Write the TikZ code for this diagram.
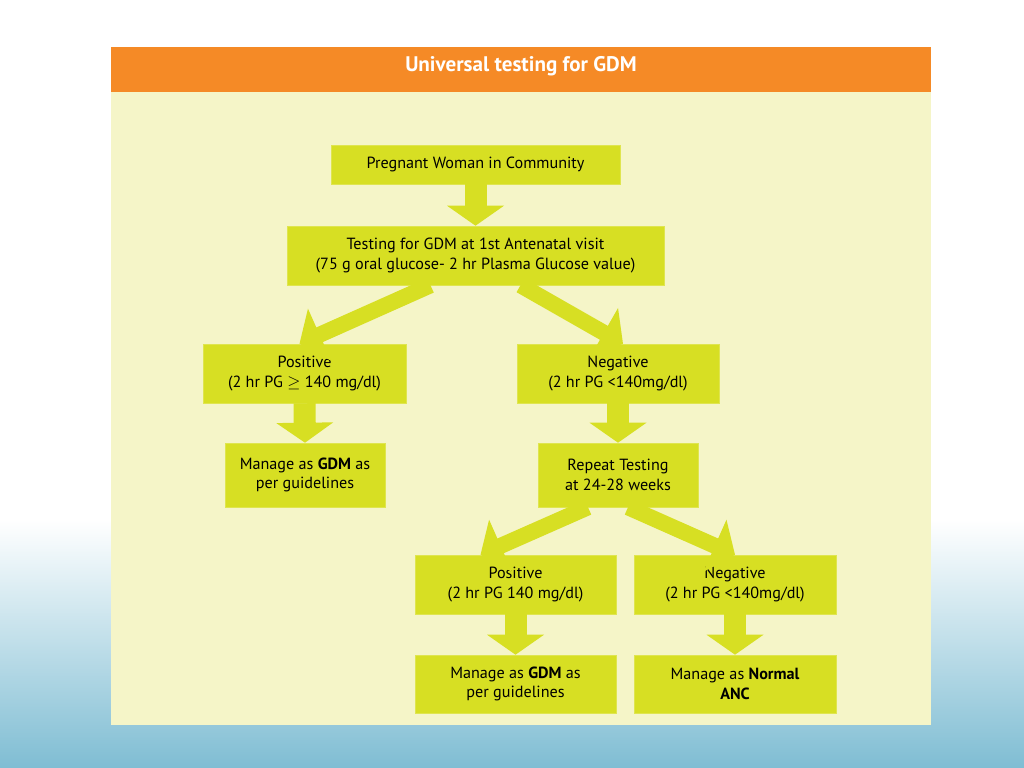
\documentclass[tikz,border=0pt]{standalone}
\usepackage{fontspec}
\setmainfont{PT Sans}
\usetikzlibrary{arrows.meta,calc}
\definecolor{hdrorange}{HTML}{F58A26}
\definecolor{panelyel}{HTML}{F5F5C8}
\definecolor{boxgreen}{HTML}{D7DF23}
\definecolor{skyblue}{HTML}{7FBDD3}
\tikzset{
  box/.style={fill=boxgreen, draw=boxgreen!80!white, align=center, inner sep=0pt,
    font=\fontsize{11.5}{14}\selectfont},
  blk/.style={boxgreen, line width=0.55cm,
    -{Triangle[width=1.4cm,length=0.5cm]}},
  blkthin/.style={boxgreen, line width=0.4cm,
    -{Triangle[width=1.4cm,length=0.55cm]}},
}
\begin{document}
\begin{tikzpicture}[x=0.025cm,y=-0.025cm]
	% slide background
	\useasboundingbox (0,0) rectangle (1024,768);
	\fill[white] (0,0) rectangle (1024,768);
	\shade[top color=white, bottom color=skyblue] (0,520) rectangle (1024,768);
	% panel
	\fill[panelyel] (111,92) rectangle (931,725);
	\fill[hdrorange] (111,47) rectangle (931,92);
	\node[white, font=\fontsize{15}{18}\selectfont\bfseries] (title) at (521,66) {Universal testing for GDM};

	% boxes
	\node[box, minimum width=289*0.025cm, minimum height=39*0.025cm] (woman) at (475.5,164.5) {Pregnant Woman in Community};
	\node[box, minimum width=377*0.025cm, minimum height=59*0.025cm] (test1) at (475.5,255.5) {Testing for GDM at 1st Antenatal visit\\(75 g oral glucose- 2 hr Plasma Glucose value)};
	\node[box, minimum width=203*0.025cm, minimum height=59*0.025cm] (pos1) at (304.5,373.5) {Positive\\(2 hr PG $\geq$ 140 mg/dl)};
	\node[box, minimum width=202*0.025cm, minimum height=59*0.025cm] (neg1) at (618,373.5) {Negative\\(2 hr PG <140mg/dl)};
	\node[box, minimum width=160*0.025cm, minimum height=64*0.025cm] (gdm1) at (305,475) {Manage as \textbf{GDM} as\\per guidelines};
	\node[box, minimum width=160*0.025cm, minimum height=64*0.025cm] (repeat) at (618,475) {Repeat Testing\\at 24-28 weeks};
	\node[box, minimum width=201*0.025cm, minimum height=59*0.025cm] (pos2) at (515.5,584.5) {Positive\\(2 hr PG 140 mg/dl)};
	\node[box, minimum width=202*0.025cm, minimum height=59*0.025cm] (neg2) at (735,584.5) {Negative\\(2 hr PG <140mg/dl)};
	\node[box, minimum width=201*0.025cm, minimum height=58*0.025cm] (gdm2) at (515.5,684) {Manage as \textbf{GDM} as\\per guidelines};
	\node[box, minimum width=202*0.025cm, minimum height=58*0.025cm] (anc) at (735,684) {Manage as \textbf{Normal}\\\textbf{ANC}};

	% block arrows
	\draw[blk] (woman.south) -- (test1.north);
	\draw[blkthin] ([xshift=-45*0.025cm]test1.south) -- ([xshift=-5*0.025cm]pos1.north);
	\draw[blkthin] ([xshift=45*0.025cm]test1.south) -- ([xshift=5*0.025cm]neg1.north);
	\draw[blk] (pos1.south) -- (gdm1.north);
	\draw[blk] (neg1.south) -- (repeat.north);
	\draw[blkthin] ([xshift=-30*0.025cm]repeat.south) -- ([xshift=-35*0.025cm]pos2.north);
	\draw[blkthin] ([xshift=10*0.025cm]repeat.south) -- (neg2.north);
	\draw[blk] (pos2.south) -- (gdm2.north);
	\draw[blk] (neg2.south) -- (anc.north);
\end{tikzpicture}
\end{document}
